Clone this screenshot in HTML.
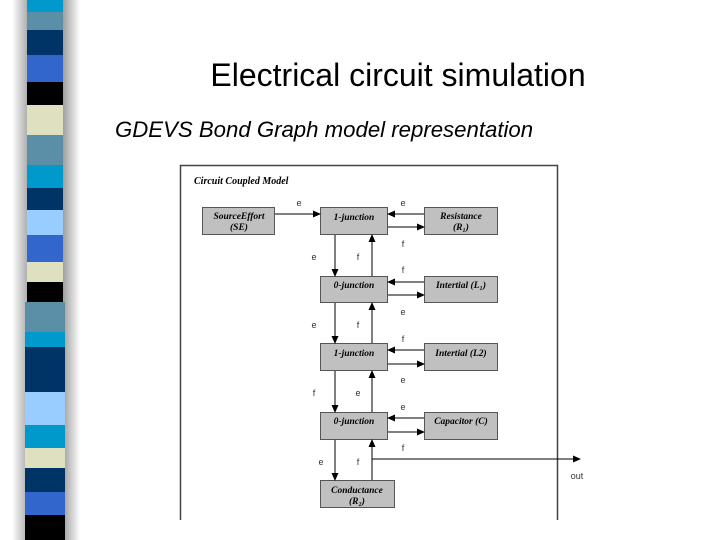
<!DOCTYPE html>
<html><head><meta charset="utf-8"><style>
body{margin:0;width:720px;height:540px;background:#fff;overflow:hidden;position:relative;font-family:"Liberation Sans",sans-serif}
</style></head><body>
<svg width="720" height="540" style="position:absolute;left:0;top:0">
<defs>
<linearGradient id="sh" x1="0" x2="1"><stop offset="0" stop-color="#999"/><stop offset="1" stop-color="#fff"/></linearGradient>
<linearGradient id="shl" x1="1" x2="0"><stop offset="0" stop-color="#aaa"/><stop offset="1" stop-color="#fff"/></linearGradient>
<marker id="a" markerWidth="8" markerHeight="8" refX="7" refY="4" orient="auto" markerUnits="userSpaceOnUse"><path d="M0,0.5 L8,4 L0,7.5z" fill="#000"/></marker>
</defs>
<rect x="62" y="0" width="18" height="540" fill="url(#sh)"/>
<rect x="12" y="0" width="16" height="540" fill="url(#shl)"/>
<g>
<rect x="27" y="0" width="36" height="12" fill="#0099cc"/>
<rect x="27" y="12" width="36" height="18" fill="#5b8fa8"/>
<rect x="27" y="30" width="36" height="25" fill="#003366"/>
<rect x="27" y="55" width="36" height="27" fill="#3366cc"/>
<rect x="27" y="82" width="36" height="23" fill="#000"/>
<rect x="27" y="105" width="36" height="30" fill="#dfe0c0"/>
<rect x="27" y="135" width="36" height="30" fill="#5b8fa8"/>
<rect x="27" y="165" width="36" height="23" fill="#0099cc"/>
<rect x="27" y="188" width="36" height="22" fill="#003366"/>
<rect x="27" y="210" width="36" height="25" fill="#99ccff"/>
<rect x="27" y="235" width="36" height="27" fill="#3366cc"/>
<rect x="27" y="262" width="36" height="20" fill="#dfe0c0"/>
<rect x="27" y="282" width="36" height="20" fill="#000"/>
<rect x="25" y="302" width="40" height="30" fill="#5b8fa8"/>
<rect x="25" y="332" width="40" height="15" fill="#0099cc"/>
<rect x="25" y="347" width="40" height="45" fill="#003366"/>
<rect x="25" y="392" width="40" height="33" fill="#99ccff"/>
<rect x="25" y="425" width="40" height="23" fill="#0099cc"/>
<rect x="25" y="448" width="40" height="20" fill="#dfe0c0"/>
<rect x="25" y="468" width="40" height="24" fill="#003366"/>
<rect x="25" y="492" width="40" height="23" fill="#3366cc"/>
<rect x="25" y="515" width="40" height="25" fill="#000"/>
</g>
<text x="398" y="86" text-anchor="middle" font-size="32" font-family="Liberation Sans">Electrical circuit simulation</text>
<text x="115" y="137" font-size="22.2" font-style="italic" font-family="Liberation Sans">GDEVS Bond Graph model representation</text>
<path d="M180.5,520 V165.5 H557.5 V520" fill="none" stroke="#444" stroke-width="1.5"/>
<text x="194" y="184" font-size="10" font-style="italic" font-weight="bold" font-family="Liberation Serif">Circuit Coupled Model</text>
<g fill="#c0c0c0" stroke="#555" stroke-width="1">
<rect x="202.5" y="207.5" width="72" height="27"/>
<rect x="320.5" y="207.5" width="67" height="27"/>
<rect x="424.5" y="207.5" width="73" height="27"/>
<rect x="320.5" y="276.5" width="67" height="26"/>
<rect x="424.5" y="276.5" width="73" height="26"/>
<rect x="320.5" y="343.5" width="67" height="27"/>
<rect x="424.5" y="343.5" width="73" height="27"/>
<rect x="320.5" y="412.5" width="67" height="27"/>
<rect x="424.5" y="412.5" width="73" height="27"/>
<rect x="320.5" y="480.5" width="74" height="27"/>
</g>
<g font-family="Liberation Serif" font-style="italic" font-weight="bold" font-size="9.5" text-anchor="middle">
<text x="239" y="219">SourceEffort</text><text x="239" y="230">(SE)</text>
<text x="354" y="220">1-junction</text>
<text x="461" y="219">Resistance</text><text x="461" y="230">(R₁)</text>
<text x="354" y="288">0-junction</text>
<text x="461" y="288">Intertial (L₁)</text>
<text x="354" y="356">1-junction</text>
<text x="461" y="356">Intertial (L2)</text>
<text x="354" y="424">0-junction</text>
<text x="461" y="424">Capacitor (C)</text>
<text x="357" y="493">Conductance</text><text x="357" y="504">(R₂)</text>
</g>
<g stroke="#000" stroke-width="1" fill="none" marker-end="url(#a)">
<line x1="275" y1="214" x2="320" y2="214"/>
<line x1="424" y1="214" x2="388" y2="214"/>
<line x1="388" y1="227" x2="424" y2="227"/>
<line x1="424" y1="282" x2="388" y2="282"/>
<line x1="388" y1="295" x2="424" y2="295"/>
<line x1="424" y1="350" x2="388" y2="350"/>
<line x1="388" y1="364" x2="424" y2="364"/>
<line x1="424" y1="418" x2="388" y2="418"/>
<line x1="388" y1="432" x2="424" y2="432"/>
<line x1="335" y1="235" x2="335" y2="276"/>
<line x1="372" y1="276" x2="372" y2="235"/>
<line x1="335" y1="303" x2="335" y2="343"/>
<line x1="372" y1="343" x2="372" y2="303"/>
<line x1="335" y1="371" x2="335" y2="412"/>
<line x1="372" y1="412" x2="372" y2="371"/>
<line x1="335" y1="440" x2="335" y2="480"/>
<line x1="372" y1="480" x2="372" y2="440"/>
<line x1="372" y1="459" x2="580" y2="459"/>
</g>
<g font-family="Liberation Sans" font-size="9" fill="#333" text-anchor="middle">
<text x="299" y="206">e</text><text x="403" y="206">e</text>
<text x="403" y="247">f</text><text x="314" y="260">e</text><text x="358" y="260">f</text>
<text x="403" y="273">f</text><text x="403" y="315">e</text>
<text x="314" y="328">e</text><text x="358" y="328">f</text><text x="403" y="342">f</text>
<text x="403" y="383">e</text><text x="314" y="396">f</text><text x="358" y="396">e</text>
<text x="403" y="410">e</text><text x="403" y="451">f</text>
<text x="321" y="465">e</text><text x="358" y="465">f</text>
<text x="577" y="479">out</text>
</g>
</svg>
</body></html>
